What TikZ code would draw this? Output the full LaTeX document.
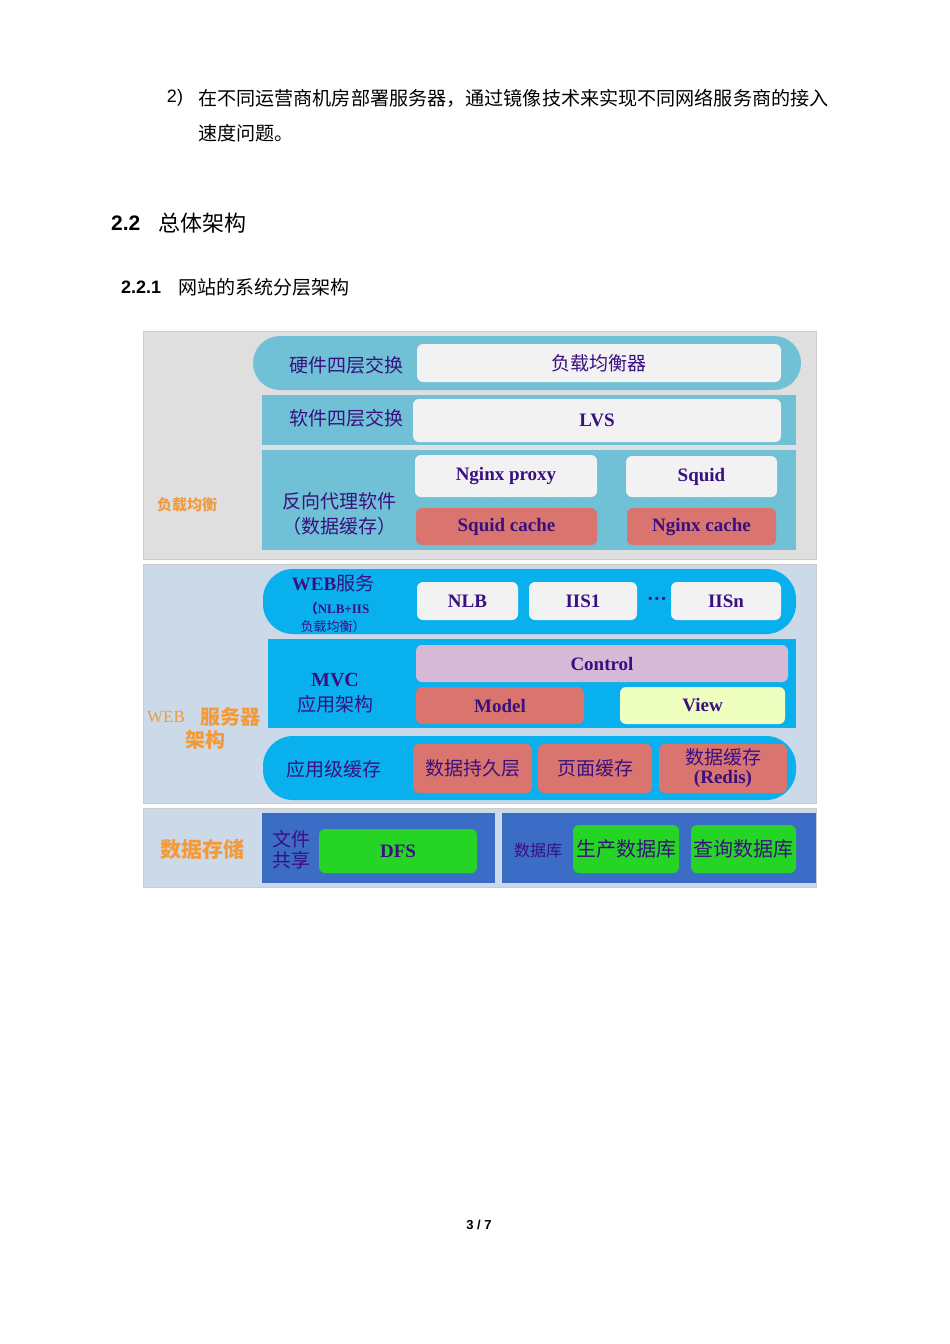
\documentclass[tikz,border=0pt]{standalone}
\usepackage{fontspec}
\setmainfont{Liberation Serif}
\newfontfamily\cjk{Noto Sans CJK SC}
\newfontfamily\hd{Liberation Sans}
\definecolor{pur}{HTML}{3A1080}
\definecolor{org}{HTML}{F39A3A}
\definecolor{teal}{HTML}{70C0D6}
\definecolor{sky}{HTML}{08B0EE}
\definecolor{dblue}{HTML}{3B6CC6}
\definecolor{rd}{HTML}{D9746F}
\definecolor{pnl}{HTML}{CBD9E8}
\tikzset{
 lbl/.style={text=pur,font=\cjk\fontsize{19}{20}\selectfont,inner sep=0pt,align=center},
 en/.style={text=pur,font=\bfseries\fontsize{19}{20}\selectfont,inner sep=0pt,align=center},
 ob/.style={text=org,font=\cjk\bfseries\fontsize{17}{18}\selectfont,inner sep=0pt},
 wbox/.style={fill=white!90!gray,rounded corners=6pt},
 rbox/.style={fill=rd,rounded corners=6pt},
 gbox/.style={fill=green!80!black!85!white,rounded corners=6pt},
}
\newcommand{\pb}[6]{\path[#6] (#2,#3) rectangle (#4,#5);\node[inner sep=0pt] (#1) at ({(#2+#4)/2},{(#3+#5)/2}) {};}
\begin{document}
\begin{tikzpicture}[x=1pt,y=-1pt]
\useasboundingbox[fill=white] (0,0) rectangle (950,1344);
% page text
\node[font=\hd\fontsize{18}{19}\selectfont,inner sep=0pt] (n2) at (175,98) {2)};
\node[anchor=west,font=\cjk\fontsize{19.1}{20}\selectfont,inner sep=0pt] (t1) at (198,98) {在不同运营商机房部署服务器，通过镜像技术来实现不同网络服务商的接入};
\node[anchor=west,font=\cjk\fontsize{19.1}{20}\selectfont,inner sep=0pt] (t2) at (198,133) {速度问题。};
\node[anchor=west,font=\hd\bfseries\fontsize{21}{22}\selectfont,inner sep=0pt] (h1) at (111,223) {2.2};
\node[anchor=west,font=\cjk\fontsize{22}{24}\selectfont,inner sep=0pt] (h1t) at (158,223) {总体架构};
\node[anchor=west,font=\hd\bfseries\fontsize{18}{19}\selectfont,inner sep=0pt] (h2) at (121,287) {2.2.1};
\node[anchor=west,font=\cjk\fontsize{19}{20}\selectfont,inner sep=0pt] (h2t) at (178,287) {网站的系统分层架构};
\node[font=\hd\bfseries\fontsize{13}{14}\selectfont,inner sep=0pt] (pg) at (479,1225) {3 / 7};
% panel 1
\pb{p1}{143}{331}{816}{559}{fill=gray!25,draw=gray!40}
\path[fill=teal,rounded corners=27pt] (253,336) rectangle (801,390);
\pb{r2}{262}{395}{796}{445}{fill=teal}
\pb{r3}{262}{450}{796}{550}{fill=teal}
\pb{lb}{417}{344}{781}{382}{wbox}
\pb{lvs}{413}{399}{781}{442}{wbox}
\pb{np}{415}{455}{597}{497}{wbox}
\pb{sq}{626}{456}{777}{497}{wbox}
\draw[org,dash pattern=on 10pt off 8pt,thick] (415,501) -- (785,501);
\pb{sc}{416}{508}{597}{545}{rbox}
\pb{nc}{627}{508}{776}{545}{rbox}
\node[lbl] at (346,365) {硬件四层交换};
\node[lbl] at (lb) {负载均衡器};
\node[lbl] at (346,418) {软件四层交换};
\node[en] at (lvs) {LVS};
\node[en] at (np) {Nginx proxy};
\node[en] at (sq) {Squid};
\node[en] at (sc) {Squid cache};
\node[en] at (nc) {Nginx cache};
\node[lbl] at (339,501) {反向代理软件};
\node[lbl] at (339,526) {（数据缓存）};
\node[ob,font=\cjk\bfseries\fontsize{15}{16}\selectfont] at (187,505) {负载均衡};
% panel 2
\pb{p2}{143}{564}{816}{803}{fill=pnl,draw=gray!40}
\path[fill=sky,rounded corners=30pt] (263,569) rectangle (796,634);
\pb{rb}{268}{639}{796}{728}{fill=sky}
\path[fill=sky,rounded corners=30pt] (263,736) rectangle (796,800);
\pb{nlb}{417}{582}{518}{620}{wbox}
\pb{iis1}{529}{582}{637}{620}{wbox}
\pb{iisn}{671}{582}{781}{620}{wbox}
\node[en,font=\bfseries\fontsize{20}{20}\selectfont] at (657,601) {···};
\node[en] at (nlb) {NLB};
\node[en] at (iis1) {IIS1};
\node[en] at (iisn) {IISn};
\node[lbl] at (333,583) {\bfseries\rmfamily WEB\cjk\mdseries 服务};
\node[lbl,font=\bfseries\fontsize{13}{13}\selectfont] at (337,609) {\cjk（\rmfamily NLB+IIS};
\node[lbl,font=\cjk\fontsize{13}{13}\selectfont] at (333,627) {负载均衡）};
\pb{ctl}{416}{645}{788}{682}{fill=violet!25!white!90!gray,rounded corners=6pt}
\pb{mdl}{416}{687}{584}{724}{rbox}
\pb{vw}{620}{687}{785}{724}{fill=lime!25!white,rounded corners=6pt}
\node[en] at (ctl) {Control};
\node[en] at (mdl) {Model};
\node[en] at (vw) {View};
\node[en,font=\bfseries\fontsize{20}{20}\selectfont] at (335,680) {MVC};
\node[lbl] at (335,704) {应用架构};
\pb{dp}{413}{744}{532}{793}{rbox}
\pb{pc}{538}{744}{652}{793}{rbox}
\pb{dc}{659}{744}{787}{793}{rbox}
\node[lbl] at (dp) {数据持久层};
\node[lbl] at (pc) {页面缓存};
\node[lbl] at (723,757) {数据缓存};
\node[en] at (723,779) {(Redis)};
\node[lbl] at (334,769) {应用级缓存};
\node[text=org,font=\fontsize{17}{17}\selectfont,inner sep=0pt] at (166,717) {WEB};
\node[ob,font=\cjk\bfseries\fontsize{20}{20}\selectfont] at (230,717) {服务器};
\node[ob,font=\cjk\bfseries\fontsize{20}{20}\selectfont] at (205,740) {架构};
% panel 3
\pb{p3}{143}{808}{816}{887}{fill=pnl,draw=gray!40}
\pb{fs}{262}{813}{495}{883}{fill=dblue}
\pb{db}{502}{813}{816}{883}{fill=dblue}
\pb{dfs}{319}{829}{477}{873}{gbox}
\pb{sc1}{573}{825}{679}{873}{gbox}
\pb{sc2}{691}{825}{796}{873}{gbox}
\node[en] at (dfs) {DFS};
\node[lbl,font=\cjk\fontsize{20}{20}\selectfont] at (sc1) {生产数据库};
\node[lbl,font=\cjk\fontsize{20}{20}\selectfont] at (sc2) {查询数据库};
\node[lbl] at (291,839) {文件};
\node[lbl] at (291,860) {共享};
\node[lbl,font=\cjk\fontsize{16}{16}\selectfont] at (538,850) {数据库};
\node[ob,font=\cjk\bfseries\fontsize{21}{21}\selectfont] at (202,849) {数据存储};
\end{tikzpicture}
\end{document}
